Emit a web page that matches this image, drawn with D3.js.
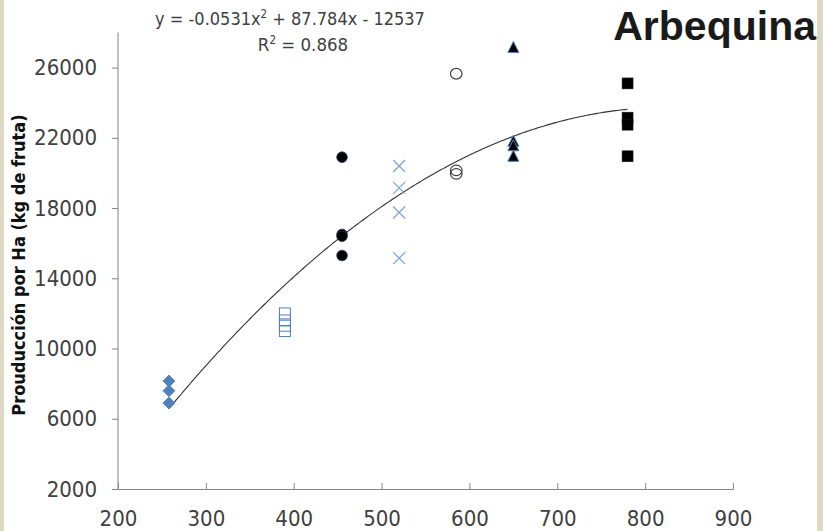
<!DOCTYPE html>
<html><head><meta charset="utf-8">
<script src="https://cdn.jsdelivr.net/npm/d3@7"></script>
<style>
html,body{margin:0;padding:0;background:#fff;}
svg{display:block;}
.num{font-family:"Liberation Sans Narrow","Arial Narrow","DejaVu Sans Condensed",sans-serif;fill:#404040;}
</style></head>
<body>
<script>
// ---- data ----
const title = "Arbequina";
const yTitle = "Prouducción por Ha (kg de fruta)";
const xTicks = [200, 300, 400, 500, 600, 700, 800, 900];
const yTicks = [2000, 6000, 10000, 14000, 18000, 22000, 26000];
const trendCoef = [-0.0531, 87.784, -12537];   // a, b, c of y = a x² + b x + c
const trendRange = [258, 780];
const r2Text = "0.868";

const diamonds   = {x: 258, y: [8150, 7600, 6900]};
const openSquares= {x: 390, y: [12000, 11600, 11300, 11000]};
const dots       = {x: 455, y: [20900, 16500, 16400, 15300]};
const crosses    = {x: 520, y: [20400, 19150, 17750, 15150]};
const openCircles= {x: 585, y: [25650, 20150, 19950]};
const triangles  = {x: 650, y: [27150, 21800, 21550, 20950]};
const blackSq    = {x: 780, y: [25100, 23150, 22750, 20950]};

// ---- layout ----
const W = 823, H = 531;
const svg = d3.select("body").append("svg").attr("width", W).attr("height", H);

// beige frame strips
svg.append("rect").attr("x",0).attr("y",0).attr("width",4).attr("height",H).attr("fill","#ddd8c2");
svg.append("rect").attr("x",817).attr("y",0).attr("width",6).attr("height",H).attr("fill","#ddd8c2");

const x = d3.scaleLinear().domain([200, 900]).range([118, 733]);
const y = d3.scaleLinear().domain([2000, 28000]).range([489, 32.5]);

// axes
const axisColor = "#868686";
const gy = svg.append("g").attr("transform", `translate(${x(200)},0)`)
  .call(d3.axisLeft(y).tickValues(yTicks).tickSize(6).tickPadding(15).tickFormat(d3.format("d")));
const gx = svg.append("g").attr("transform", `translate(0,${y(2000)})`)
  .call(d3.axisBottom(x).tickValues(xTicks).tickSize(-6).tickPadding(21).tickFormat(d3.format("d")));
[gx, gy].forEach(g => {
  g.select(".domain").attr("stroke", axisColor).attr("stroke-width", 1);
  g.selectAll(".tick line").attr("stroke", axisColor);
  g.selectAll(".tick text").attr("class","num").attr("font-size", 22).attr("fill","#404040");
});
gy.select(".domain").attr("d", `M-0,${y(28000)}V${y(2000)}`);
gx.selectAll(".tick text").attr("dy", "0.71em");

// y title
svg.append("text")
  .attr("transform", `translate(25,${265}) rotate(-90)`)
  .attr("text-anchor","middle")
  .attr("font-family","'Liberation Sans Narrow','DejaVu Sans Condensed',sans-serif")
  .attr("font-weight","bold").attr("font-size",18).attr("fill","#111")
  .text(yTitle);

// title
svg.append("text").attr("x", 816).attr("y", 40).attr("text-anchor","end")
  .attr("font-family","'Liberation Sans',Arial,sans-serif").attr("font-weight","bold")
  .attr("font-size", 41).attr("fill","#1a1a1a").text(title);

// trendline
const tl = d3.range(trendRange[0], trendRange[1] + 0.001, 2).map(v => [v, trendCoef[0]*v*v + trendCoef[1]*v + trendCoef[2]]);
svg.append("path").attr("d", d3.line().x(d => x(d[0])).y(d => y(d[1]))(tl))
  .attr("fill","none").attr("stroke","#333").attr("stroke-width",1.1);

// equation
const eq = svg.append("text").attr("x", 290).attr("y", 25).attr("text-anchor","middle")
  .attr("class","num").attr("font-size",18).attr("fill","#222");
eq.append("tspan").text(`y = ${trendCoef[0]}x`);
eq.append("tspan").attr("font-size",11.5).attr("dy",-7).text("2");
eq.append("tspan").attr("dy",7).text(` + ${trendCoef[1]}x - ${Math.abs(trendCoef[2])}`);
const r2 = svg.append("text").attr("x", 303).attr("y", 51).attr("text-anchor","middle")
  .attr("class","num").attr("font-size",18.5).attr("fill","#222");
r2.append("tspan").text("R");
r2.append("tspan").attr("font-size",11.5).attr("dy",-7).text("2");
r2.append("tspan").attr("dy",7).text(` = ${r2Text}`);

// markers
const blue = "#4f81bd";
const g = svg.append("g");
g.selectAll(".dia").data(diamonds.y).join("path")
  .attr("transform", d => `translate(${x(diamonds.x)},${y(d)})`)
  .attr("d", "M0,-6L6,0L0,6L-6,0Z").attr("fill", blue).attr("stroke", blue).attr("stroke-width",0.8);
g.selectAll(".osq").data(openSquares.y).join("rect")
  .attr("x", x(openSquares.x) - 5.5).attr("y", d => y(d) - 5.5).attr("width",11).attr("height",11)
  .attr("fill","none").attr("stroke", blue).attr("stroke-width",1);
g.selectAll(".dot").data(dots.y).join("circle")
  .attr("cx", x(dots.x)).attr("cy", d => y(d)).attr("r", 5.3)
  .attr("fill","#000").attr("stroke","#1f3864").attr("stroke-width",0.8);
g.selectAll(".crs").data(crosses.y).join("path")
  .attr("transform", d => `translate(${x(crosses.x)},${y(d)})`)
  .attr("d", "M-6,-6L6,6M-6,6L6,-6").attr("stroke","#7fa6dc").attr("stroke-width",1.3).attr("fill","none");
g.selectAll(".oc").data(openCircles.y).join("ellipse")
  .attr("cx", x(openCircles.x)).attr("cy", d => y(d)).attr("rx", 5.8).attr("ry", 5.3)
  .attr("fill","none").attr("stroke","#404040").attr("stroke-width",1.2);
g.selectAll(".tri").data(triangles.y).join("path")
  .attr("transform", d => `translate(${x(triangles.x)},${y(d)})`)
  .attr("d", "M0,-6L5.5,5L-5.5,5Z").attr("fill","#000").attr("stroke", blue).attr("stroke-width",1);
g.selectAll(".bsq").data(blackSq.y).join("rect")
  .attr("x", x(blackSq.x) - 5.5).attr("y", d => y(d) - 5.5).attr("width",11).attr("height",11)
  .attr("fill","#000").attr("stroke","#222").attr("stroke-width",0.5);
</script>
</body></html>
